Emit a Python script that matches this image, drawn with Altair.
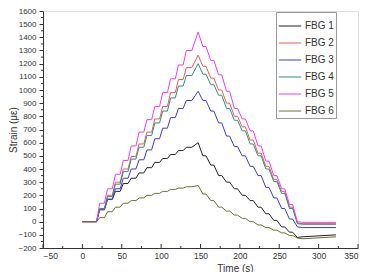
import altair as alt
import pandas as pd

time_s = [0, 18, 22, 28, 32, 38, 42, 48, 52, 58, 62, 68, 72, 78, 82, 88, 92, 98, 102, 108,
          112, 118, 122, 128, 132, 139, 147, 153, 157, 163, 167, 173, 177, 183, 187, 193,
          197, 203, 207, 213, 217, 223, 227, 233, 237, 243, 247, 253, 257, 263, 267, 273, 280, 322]

fbg1 = [0, 0, 90, 90, 170, 170, 230, 230, 290, 290, 330, 330, 370, 370, 410, 410, 450, 450,
        480, 480, 510, 510, 540, 540, 565, 565, 600, 500, 500, 430, 430, 350, 350, 300, 300,
        250, 250, 200, 200, 160, 160, 110, 110, 60, 60, 10, 10, -40, -40, -80, -80, -120, -115, -100]
fbg2 = [0, 0, 100, 100, 200, 200, 300, 300, 400, 400, 495, 495, 590, 590, 680, 680, 780, 780,
        875, 875, 980, 980, 1080, 1080, 1170, 1170, 1265, 1180, 1180, 1090, 1090, 1000, 1000, 900, 900,
        800, 800, 720, 720, 620, 620, 520, 520, 420, 420, 320, 320, 230, 230, 110, 110, -10, -15, -15]
fbg3 = [0, 0, 95, 95, 170, 170, 250, 250, 330, 330, 400, 400, 470, 470, 545, 545, 630, 630,
        710, 710, 790, 790, 860, 860, 920, 920, 990, 920, 920, 840, 840, 750, 750, 650, 650,
        570, 570, 500, 500, 420, 420, 350, 350, 260, 260, 180, 180, 100, 100, 20, 20, -40, -45, -45]
fbg4 = [0, 0, 95, 95, 190, 190, 285, 285, 380, 380, 475, 475, 565, 565, 655, 655, 750, 750,
        840, 840, 940, 940, 1030, 1030, 1110, 1110, 1200, 1120, 1120, 1040, 1040, 960, 960, 860, 860,
        770, 770, 690, 690, 590, 590, 500, 500, 400, 400, 305, 305, 215, 215, 100, 100, -15, -20, -20]
fbg5 = [0, 0, 140, 140, 250, 250, 360, 360, 465, 465, 575, 575, 680, 680, 775, 775, 875, 875,
        980, 980, 1085, 1085, 1190, 1190, 1300, 1300, 1440, 1330, 1330, 1225, 1225, 1115, 1115, 990, 990,
        860, 860, 780, 780, 690, 690, 575, 575, 460, 460, 350, 350, 250, 250, 130, 130, 0, -5, -5]
fbg6 = [0, 0, 30, 30, 75, 75, 110, 110, 140, 140, 160, 160, 180, 180, 200, 200, 215, 215,
        230, 230, 245, 245, 255, 255, 265, 265, 275, 210, 210, 160, 160, 110, 110, 80, 80,
        50, 50, 25, 25, 0, 0, -25, -25, -45, -45, -65, -65, -85, -85, -105, -105, -125, -130, -115]

series_names = ["FBG 1", "FBG 2", "FBG 3", "FBG 4", "FBG 5", "FBG 6"]
series_colors = ["#222222", "#ee5a5a", "#3a3ad0", "#2f8f78", "#f03cf0", "#6e6e30"]

x_major = [-50, 0, 50, 100, 150, 200, 250, 300, 350]
x_minor = [-25, 25, 75, 125, 175, 225, 275, 325]
y_major = list(range(-200, 1601, 100))
y_minor = list(range(-150, 1600, 100))

rows = []
for name, vals in zip(series_names, [fbg1, fbg2, fbg3, fbg4, fbg5, fbg6]):
    for i, (t, v) in enumerate(zip(time_s, vals)):
        rows.append({"series": name, "time": t, "strain": v, "order": i})
df = pd.DataFrame(rows)

W, H = 315, 237
FONT = "Liberation Sans"

xscale = alt.Scale(domain=[-50, 350], nice=False, zero=False)
yscale = alt.Scale(domain=[-200, 1600], nice=False, zero=False)

xaxis = alt.Axis(title="Time (s)", values=x_major, format="d", tickSize=0, labelPadding=3,
                 grid=False, domainColor="#333", labelFontSize=8.5, labelColor="#333",
                 labelFont=FONT, titleFont=FONT, titleFontSize=10, titleFontWeight="normal",
                 titleColor="#333", titleX=192, titleY=15, titleBaseline="top")
yaxis = alt.Axis(title="Strain (με)", values=y_major, format="d", tickSize=4, tickColor="#333",
                 labelPadding=3, grid=False, domainColor="#333", labelFontSize=8, labelColor="#333",
                 labelFont=FONT, titleFont=FONT, titleFontSize=10, titleFontWeight="normal",
                 titleColor="#333", titleX=-30, titleY=H / 2, titleAngle=270,
                 titleBaseline="middle", titleAlign="center")

lines = alt.Chart(df).mark_line(strokeWidth=1, interpolate="linear").encode(
    x=alt.X("time:Q", scale=xscale, axis=xaxis),
    y=alt.Y("strain:Q", scale=yscale, axis=yaxis),
    color=alt.Color("series:N", scale=alt.Scale(domain=series_names, range=series_colors),
                    legend=alt.Legend(title=None, orient="none", legendX=233, legendY=1,
                                      symbolType="stroke", symbolSize=500, symbolStrokeWidth=1,
                                      labelFont=FONT, labelFontSize=10, labelColor="#333",
                                      strokeColor="#999", padding=2, rowPadding=0,
                                      labelOffset=3, fillColor="white")),
    order="order:Q",
)

xmaj = alt.Chart(pd.DataFrame({"time": x_major})).mark_rule(color="#333").encode(
    x=alt.X("time:Q", scale=xscale, axis=xaxis), y=alt.value(H), y2=alt.value(H - 4))
xmin = alt.Chart(pd.DataFrame({"time": x_minor})).mark_rule(color="#333").encode(
    x=alt.X("time:Q", scale=xscale, axis=xaxis), y=alt.value(H), y2=alt.value(H - 2))
ymin = alt.Chart(pd.DataFrame({"strain": y_minor})).mark_rule(color="#333").encode(
    y=alt.Y("strain:Q", scale=yscale, axis=yaxis), x=alt.value(-2), x2=alt.value(0))

chart = alt.layer(lines, xmaj, xmin, ymin).properties(
    width=W, height=H,
    autosize=alt.AutoSizeParams(type="none"),
    padding={"left": 35, "top": 3, "right": 17, "bottom": 24},
).configure_view(stroke=None).configure(background="white")

chart.save("out.html", embed_options={"renderer": "svg", "actions": False})
